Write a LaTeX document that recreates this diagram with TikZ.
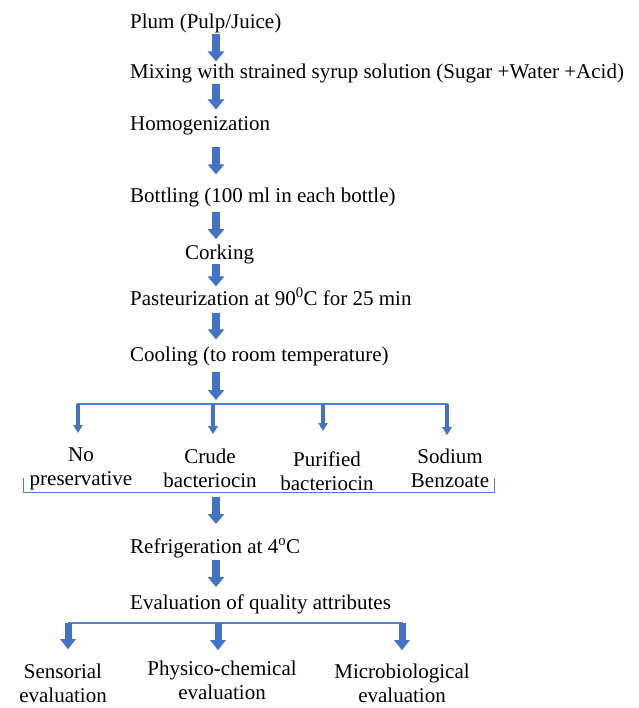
\documentclass[tikz,border=0pt]{standalone}
\usepackage{fontspec}
\setmainfont{Liberation Serif}
\usetikzlibrary{arrows.meta}

\definecolor{arrowblue}{HTML}{4472C4}
\definecolor{lineblue}{HTML}{4F81CF}

\tikzset{
	txt/.style={anchor=base west, inner sep=0pt},
	twoline/.style={anchor=base, align=center, inner sep=0pt},
	flow/.style={draw=arrowblue, line width=8pt, -{Triangle[width=16pt,length=10pt]}},
	smallflow/.style={draw=arrowblue, line width=4pt, -{Triangle[width=9pt,length=8pt]}},
	midflow/.style={draw=arrowblue, line width=7pt, -{Triangle[width=15pt,length=10pt]}},
	bus/.style={draw=lineblue, line width=2pt},
	bracket/.style={draw=lineblue, line width=1pt},
	gap/.style 2 args={shorten <=#1, shorten >=#2}
}

\begin{document}
\begin{tikzpicture}[x=1pt, y=-1pt, font=\fontsize{21}{24}\selectfont]
\useasboundingbox (0,0) rectangle (638,708);

% process steps
\node[txt] (plum)   at (130,29)  {Plum (Pulp/Juice)};
\node[txt] (mix)    at (130,79)  {Mixing with strained syrup solution (Sugar +Water +Acid)};
\node[txt] (homo)   at (130,131) {Homogenization};
\node[txt] (bottle) at (130,203) {Bottling (100 ml in each bottle)};
\node[txt] (cork)   at (185,259) {Corking};
\node[txt] (past)   at (130,305) {Pasteurization at 90\textsuperscript{0}C for 25 min};
\node[txt] (cool)   at (130,361) {Cooling (to room temperature)};

\coordinate (ax) at (216,0);

\draw[flow, gap={0.5pt}{2.8pt}]  (plum.south -| ax) -- (mix.north -| ax);
\draw[flow, gap={0.5pt}{7.4pt}]  (mix.south -| ax) -- (homo.north -| ax);
\draw[flow, gap={11.5pt}{13.8pt}] (homo.south -| ax) -- (bottle.north -| ax);
\draw[flow, gap={4.5pt}{5pt}]    (bottle.south -| ax) -- (cork.north -| ax);
\draw[flow, gap={0pt}{1pt}]      (cork.south -| ax) -- (past.north -| ax);
\draw[flow, gap={7.7pt}{6.8pt}]  (past.south -| ax) -- (cool.north -| ax);

% treatments
\coordinate (busL) at (77,404);
\coordinate (busR) at (448,404);
\draw[flow, gap={6.5pt}{4pt}] (cool.south -| ax) -- (busL -| ax);
\draw[bus] (busL) -- (busR);

\node[twoline] (nopres) at (81,485)  {No\\preservative};
\node[twoline] (crude)  at (210,487) {Crude\\bacteriocin};
\node[twoline] (pure)   at (327,490) {Purified\\bacteriocin};
\node[twoline] (sodium) at (450,487) {Sodium\\Benzoate};

\coordinate (t1) at (78,404);
\coordinate (t2) at (213,404);
\coordinate (t3) at (323,404);
\coordinate (t4) at (447,404);
\draw[smallflow, gap={0pt}{14pt}] (t1) -- (t1 |- nopres.north);
\draw[smallflow, gap={0pt}{14pt}] (t2) -- (t2 |- crude.north);
\draw[smallflow, gap={0pt}{20pt}] (t3) -- (t3 |- pure.north);
\draw[smallflow, gap={0pt}{13pt}] (t4) -- (t4 |- sodium.north);

\coordinate (brL) at (23,478);
\coordinate (brR) at (494,478);
\draw[bracket] (brL) |- (brR |- 0,492) -- (brR);
\coordinate (brM) at (216,492);

% storage and evaluation
\node[txt] (fridge) at (130,553) {Refrigeration at 4\textsuperscript{o}C};
\node[txt] (eval)   at (130,609) {Evaluation of quality attributes};

\draw[flow, gap={5pt}{14pt}]  (brM) -- (fridge.north -| ax);
\draw[flow, gap={2.5pt}{7pt}] (fridge.south -| ax) -- (eval.north -| ax);

\coordinate (evL) at (68,623);
\coordinate (evR) at (403,623);
\draw[bus] (evL) -- (evR);

\node[twoline] (sens)  at (63,702)  {Sensorial\\evaluation};
\node[twoline] (phys)  at (222,699) {Physico-chemical\\evaluation};
\node[twoline] (micro) at (402,702) {Microbiological\\evaluation};

\coordinate (e1) at (68,623);
\coordinate (e2) at (218,623);
\coordinate (e3) at (402,623);
\draw[midflow, gap={0pt}{14pt}] (e1) -- (e1 |- sens.north);
\draw[midflow, gap={0pt}{10pt}] (e2) -- (e2 |- phys.north);
\draw[midflow, gap={0pt}{13pt}] (e3) -- (e3 |- micro.north);
\end{tikzpicture}
\end{document}
